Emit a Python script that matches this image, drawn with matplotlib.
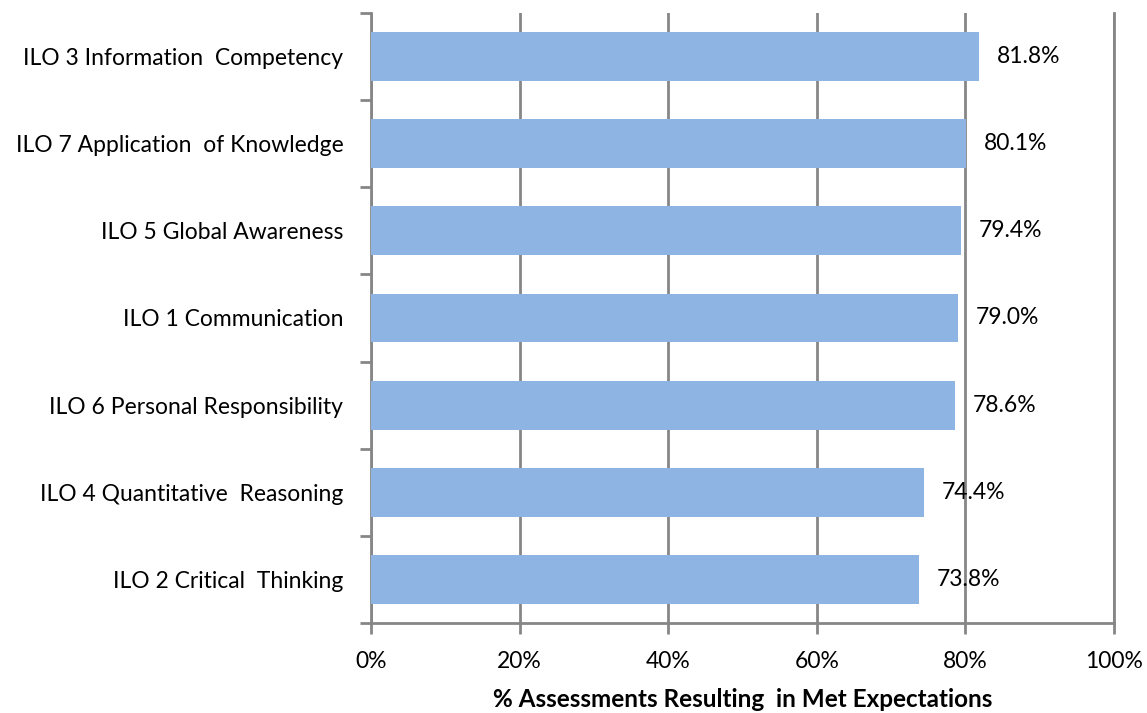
import matplotlib.pyplot as plt
from matplotlib.ticker import FixedLocator

categories = ['ILO 3 Information  Competency', 'ILO 7 Application  of Knowledge',
              'ILO 5 Global Awareness', 'ILO 1 Communication',
              'ILO 6 Personal Responsibility', 'ILO 4 Quantitative  Reasoning',
              'ILO 2 Critical  Thinking']
values = [81.8, 80.1, 79.4, 79.0, 78.6, 74.4, 73.8]
xticks = [0, 20, 40, 60, 80, 100]

plt.rcParams['font.family'] = ['Lato', 'DejaVu Sans']
fs = 16.5

fig = plt.figure(figsize=(11.47, 7.13), dpi=100)
ax = fig.add_axes([0.3235, 0.1262, 0.6477, 0.8556])

n = len(categories)
ypos = list(range(n))[::-1]
ax.barh(ypos, values, height=0.56, color='#8eb4e3', zorder=3)

for y, v in zip(ypos, values):
    ax.text(v + 2.4, y, f'{v:.1f}%', va='center', ha='left', fontsize=fs, zorder=4)

ax.set_xlim(0, 100)
ax.set_ylim(-0.5, n - 0.5)
ax.set_xticks(xticks)
ax.set_xticklabels([f'{t}%' for t in xticks], fontsize=fs)
ax.set_yticks(ypos)
ax.set_yticklabels(categories, fontsize=fs)
ax.yaxis.set_minor_locator(FixedLocator([i - 0.5 for i in range(n + 1)]))
ax.tick_params(axis='y', which='major', length=0, pad=20)
ax.tick_params(axis='y', which='minor', length=8, width=2, color='#868686')
ax.tick_params(axis='x', length=8, width=2, color='#868686', pad=12)

ax.grid(axis='x', color='#868686', linewidth=2, zorder=0)
ax.spines['top'].set_visible(False)
for s in ['left', 'bottom', 'right']:
    ax.spines[s].set_color('#868686')
    ax.spines[s].set_linewidth(2)

ax.set_xlabel('% Assessments Resulting  in Met Expectations', fontsize=17.5,
              fontweight='bold', labelpad=12)

fig.savefig('out.png', dpi=100)
